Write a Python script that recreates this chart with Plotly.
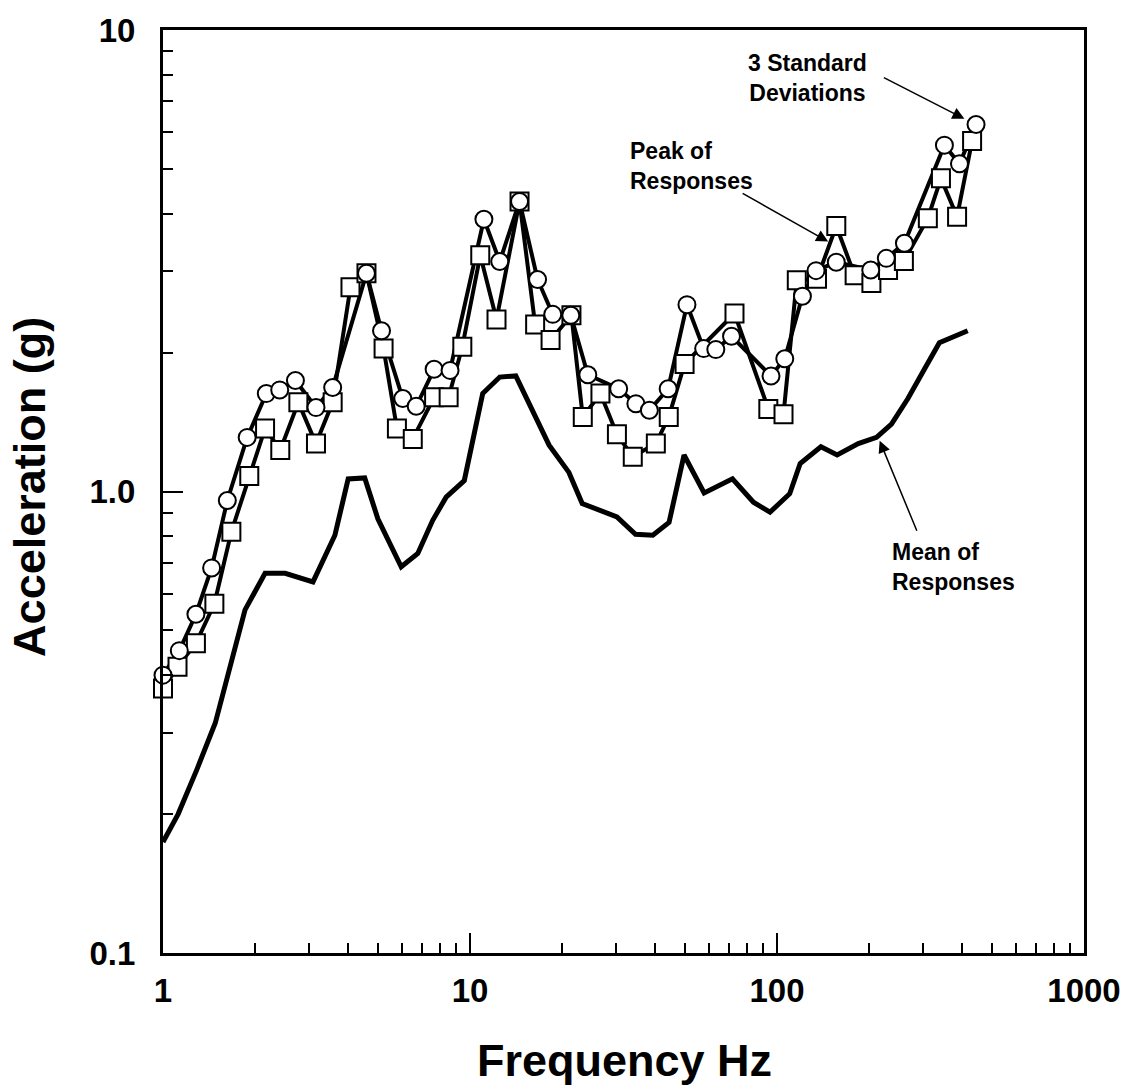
import plotly.graph_objects as go

# Response spectra: frequency (Hz) vs. acceleration (g)
sd3_freq = [1.0, 1.13, 1.28, 1.44, 1.62, 1.88, 2.17, 2.40, 2.70, 3.15, 3.57, 4.60, 5.15,
            6.04, 6.68, 7.64, 8.61, 11.1, 12.5, 14.5, 16.6, 18.6, 21.3, 24.2, 30.5, 34.7,
            38.4, 44.2, 50.9, 57.7, 63.2, 71.1, 95.6, 106, 121, 134, 156, 202, 227, 260,
            351, 393, 445]
sd3_acc = [0.40, 0.452, 0.542, 0.683, 0.956, 1.31, 1.63, 1.66, 1.74, 1.52, 1.68, 2.97, 2.23,
           1.59, 1.53, 1.84, 1.83, 3.89, 3.15, 4.25, 2.88, 2.42, 2.41, 1.79, 1.67, 1.55,
           1.50, 1.67, 2.54, 2.04, 2.03, 2.17, 1.78, 1.94, 2.65, 3.01, 3.14, 3.02, 3.20, 3.45,
           5.63, 5.13, 6.24]

peak_freq = [1.0, 1.115, 1.28, 1.47, 1.67, 1.91, 2.15, 2.41, 2.76, 3.15, 3.57, 4.08, 4.60,
             5.23, 5.78, 6.51, 7.64, 8.52, 9.44, 10.8, 12.2, 14.5, 16.3, 18.3, 21.4, 23.3,
             26.6, 30.1, 33.9, 40.3, 44.4, 50.0, 72.7, 93.7, 105, 116, 135, 156, 179, 203,
             230, 259, 310, 342, 386, 432]
peak_acc = [0.374, 0.417, 0.469, 0.571, 0.818, 1.08, 1.37, 1.23, 1.56, 1.27, 1.56, 2.77, 2.97,
            2.04, 1.37, 1.30, 1.60, 1.60, 2.06, 3.25, 2.36, 4.25, 2.30, 2.13, 2.41, 1.45,
            1.63, 1.33, 1.19, 1.27, 1.45, 1.89, 2.43, 1.51, 1.47, 2.87, 2.89, 3.76, 2.94, 2.83,
            3.02, 3.16, 3.91, 4.77, 3.94, 5.75]

mean_freq = [1.0, 1.12, 1.29, 1.48, 1.85, 2.15, 2.50, 3.08, 3.63, 4.01, 4.54, 5.01, 5.97,
             6.76, 7.56, 8.36, 9.58, 11.0, 12.5, 14.1, 18.1, 21.0, 23.2, 30.1, 34.6, 39.4,
             44.5, 49.8, 57.9, 71.6, 83.8, 94.9, 110, 119, 139, 157, 184, 211, 236, 267,
             302, 338, 418]
mean_acc = [0.174, 0.200, 0.250, 0.315, 0.554, 0.665, 0.665, 0.637, 0.804, 1.065, 1.07, 0.873,
            0.687, 0.734, 0.866, 0.972, 1.056, 1.63, 1.77, 1.78, 1.26, 1.10, 0.942, 0.881,
            0.808, 0.804, 0.857, 1.20, 0.993, 1.065, 0.948, 0.902, 0.989, 1.15, 1.25, 1.20,
            1.27, 1.31, 1.40, 1.59, 1.84, 2.10, 2.23]

x_major = [1, 10, 100, 1000]
x_major_text = ["1", "10", "100", "1000"]
y_major = [0.1, 1, 10]
y_major_text = ["0.1", "1.0", "10"]
x_minor = [m * d for d in (1, 10, 100) for m in range(2, 10)]
y_minor = [m * d for d in (0.1, 1) for m in range(2, 10)]

FONT = "Liberation Sans, Arial, Helvetica, sans-serif"

fig = go.Figure()

# lines first so every marker sits above every line
fig.add_trace(go.Scatter(x=mean_freq, y=mean_acc, mode="lines",
                         line=dict(color="black", width=5)))
fig.add_trace(go.Scatter(x=peak_freq, y=peak_acc, mode="lines",
                         line=dict(color="black", width=4)))
fig.add_trace(go.Scatter(x=sd3_freq, y=sd3_acc, mode="lines",
                         line=dict(color="black", width=4)))
fig.add_trace(go.Scatter(x=peak_freq, y=peak_acc, mode="markers", cliponaxis=False,
                         marker=dict(symbol="square", size=18, color="white",
                                     line=dict(color="black", width=2))))
fig.add_trace(go.Scatter(x=sd3_freq, y=sd3_acc, mode="markers", cliponaxis=False,
                         marker=dict(symbol="circle", size=17, color="white",
                                     line=dict(color="black", width=2))))

axis_common = dict(
    type="log", showgrid=False, zeroline=False,
    showline=True, linecolor="black", linewidth=3, mirror=True,
    ticks="inside", ticklen=20, tickwidth=2, tickcolor="black",
    tickfont=dict(family=FONT, size=33, color="black", weight="bold"),
)

fig.update_xaxes(**axis_common, range=[0, 3], tickmode="array",
                 tickvals=x_major, ticktext=x_major_text, ticklabelstandoff=6,
                 minor=dict(ticks="inside", ticklen=10, tickwidth=2, tickcolor="black",
                            tickmode="array", tickvals=x_minor))
fig.update_yaxes(**axis_common, range=[-1, 1], tickmode="array",
                 tickvals=y_major, ticktext=y_major_text, ticklabelstandoff=18,
                 minor=dict(ticks="inside", ticklen=10, tickwidth=2, tickcolor="black",
                            tickmode="array", tickvals=y_minor))

label_font = dict(family=FONT, size=23, color="black", weight="bold")
title_font = dict(family=FONT, size=45, color="black", weight="bold")

annotations = [
    # axis titles
    dict(text="Frequency Hz", xref="paper", yref="paper", x=0.5016, y=-0.116,
         xanchor="center", yanchor="middle", showarrow=False, font=title_font),
    dict(text="Acceleration (g)", xref="paper", yref="paper", x=-0.1444, y=0.505,
         xanchor="center", yanchor="middle", textangle=-90, showarrow=False,
         font=title_font),
    # callout labels
    dict(text="3 Standard<br>Deviations", xref="paper", yref="paper", x=0.700, y=0.948,
         xanchor="center", yanchor="middle", align="center", showarrow=False,
         font=label_font),
    dict(text="Peak of<br>Responses", xref="paper", yref="paper", x=0.5049, y=0.853,
         xanchor="left", yanchor="middle", align="left", showarrow=False,
         font=label_font),
    dict(text="Mean of<br>Responses", xref="paper", yref="paper", x=0.7894, y=0.418,
         xanchor="left", yanchor="middle", align="left", showarrow=False,
         font=label_font),
]

# callout arrows (tip in log10 data units, tail as pixel offset)
arrows = [(2.6104, 0.8076, -82, -42), (2.1666, 0.5415, -87, -49), (2.3344, 0.1100, 38, 92)]
for ax_log, ay_log, dx, dy in arrows:
    annotations.append(dict(x=ax_log, y=ay_log, xref="x", yref="y", text=" ",
                            font=dict(size=1), showarrow=True, ax=dx, ay=dy,
                            arrowhead=2, arrowsize=1.6, arrowwidth=1.5,
                            arrowcolor="black", standoff=0))

fig.update_layout(
    width=1133, height=1091,
    margin=dict(l=163, r=49, t=27, b=138),
    paper_bgcolor="white", plot_bgcolor="white",
    showlegend=False,
    annotations=annotations,
)

fig.write_html("out.html")
